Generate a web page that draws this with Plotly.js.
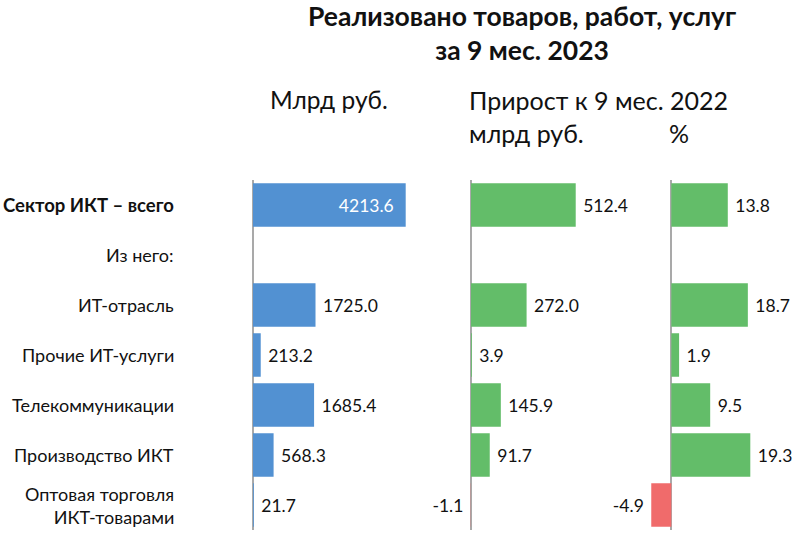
<!DOCTYPE html>
<html>
<head>
<meta charset="utf-8">
<script src="https://cdn.plot.ly/plotly-3.0.1.min.js"></script>
<style>body{margin:0;background:#fff}#chart{width:800px;height:537px}</style>
</head>
<body>
<div id="chart"></div>
<script>
// rows, top to bottom
var categories = ["Сектор ИКТ – всего", "Из него:", "ИТ-отрасль", "Прочие ИТ-услуги",
  "Телекоммуникации", "Производство ИКТ", "Оптовая торговля<br>ИКТ-товарами"];
var rowLabels = ["<b>Сектор ИКТ – всего</b>", "Из него:", "ИТ-отрасль", "Прочие ИТ-услуги",
  "Телекоммуникации", "Производство ИКТ", "Оптовая торговля<br>ИКТ-товарами"];
var salesBn = [4213.6, null, 1725.0, 213.2, 1685.4, 568.3, 21.7];
var growthBn = [512.4, null, 272.0, 3.9, 145.9, 91.7, -1.1];
var growthPct = [13.8, null, 18.7, 1.9, 9.5, 19.3, -4.9];

var BLUE = "#5291d2", GREEN = "#63bd69", RED = "#f06b6b";
var FONT = "Lato, 'Noto Sans', sans-serif";

function colorsFor(vals) {
  return vals.map(function (v) { return v !== null && v < 0 ? RED : GREEN; });
}
function textsFor(vals) {
  return vals.map(function (v) {
    if (v === null) return "";
    return v < 0 ? v.toFixed(1) + "\u00a0" : "\u00a0" + v.toFixed(1);
  });
}

var salesText = salesBn.map(function (v, i) {
  if (v === null) return "";
  return i === 0 ? v.toFixed(1) + "\u00a0\u00a0" : "\u00a0" + v.toFixed(1);
});

var valFont = {color: "#111", size: 17.5, family: FONT};

var traces = [
  {
    type: "bar", orientation: "h", y: categories, x: salesBn,
    xaxis: "x", yaxis: "y",
    marker: {color: BLUE},
    text: salesText, texttemplate: "%{text}",
    textposition: salesBn.map(function (v, i) { return i === 0 ? "inside" : "outside"; }),
    insidetextanchor: "end",
    insidetextfont: {color: "#fff", size: 17.5, family: FONT},
    outsidetextfont: valFont,
    cliponaxis: false, hoverinfo: "x+y"
  },
  {
    type: "bar", orientation: "h", y: categories, x: growthBn,
    xaxis: "x2", yaxis: "y",
    marker: {color: colorsFor(growthBn)},
    text: textsFor(growthBn), texttemplate: "%{text}", textposition: "outside",
    outsidetextfont: valFont,
    cliponaxis: false, hoverinfo: "x+y"
  },
  {
    type: "bar", orientation: "h", y: categories, x: growthPct,
    xaxis: "x3", yaxis: "y",
    marker: {color: colorsFor(growthPct)},
    text: textsFor(growthPct), texttemplate: "%{text}", textposition: "outside",
    outsidetextfont: valFont,
    cliponaxis: false, hoverinfo: "x+y"
  }
];

var axisBase = {
  showgrid: false, showticklabels: false, ticks: "",
  zeroline: true, zerolinecolor: "#a9a9a9", zerolinewidth: 2,
  fixedrange: true
};

// headers, positions in pixels (plot area spans y 180..530)
var headers = [
  {text: "<b>Реализовано товаров, работ, услуг<br>за 9 мес. 2023</b>", x: 522, y: 33, size: 26.5, anchor: "center"},
  {text: "Млрд руб.", x: 268, y: 100, size: 24.5, anchor: "left"},
  {text: "Прирост к 9 мес. 2022", x: 467, y: 100, size: 25, anchor: "left"},
  {text: "млрд руб.", x: 467, y: 133, size: 25, anchor: "left"},
  {text: "%", x: 667, y: 133, size: 25, anchor: "left"}
];
var annotations = headers.map(function (a) {
  return {
    text: a.text, xref: "paper", yref: "paper",
    x: a.x / 800, y: (530 - a.y) / 350,
    xanchor: a.anchor, yanchor: "middle", align: "center", showarrow: false,
    font: {family: FONT, size: a.size, color: "#111"}
  };
});

categories.forEach(function (c, i) {
  annotations.push({
    text: rowLabels[i], xref: "paper", yref: "y", x: 176 / 800, y: c,
    xanchor: "right", yanchor: "middle", align: "right", showarrow: false,
    font: {family: FONT, size: i === 0 ? 18.5 : 18, color: "#111"}
  });
});

var layout = {
  width: 800, height: 537,
  margin: {l: 0, r: 0, t: 180, b: 7},
  paper_bgcolor: "#fff", plot_bgcolor: "rgba(0,0,0,0)",
  showlegend: false, bargap: 0.13,
  font: {family: FONT, color: "#111"},
  xaxis: Object.assign({}, axisBase, {domain: [253 / 800, 440 / 800], range: [0, 5160]}),
  xaxis2: Object.assign({}, axisBase, {domain: [445 / 800, 640 / 800], range: [-127.3, 827]}),
  xaxis3: Object.assign({}, axisBase, {domain: [645 / 800, 790 / 800], range: [-6.43, 29]}),
  yaxis: {
    type: "category", categoryorder: "array", categoryarray: categories,
    range: [6.5, -0.5], showticklabels: false, showgrid: false, zeroline: false,
    ticks: "", fixedrange: true
  },
  annotations: annotations
};

Plotly.newPlot("chart", traces, layout, {displayModeBar: false, staticPlot: true});
</script>
</body>
</html>
